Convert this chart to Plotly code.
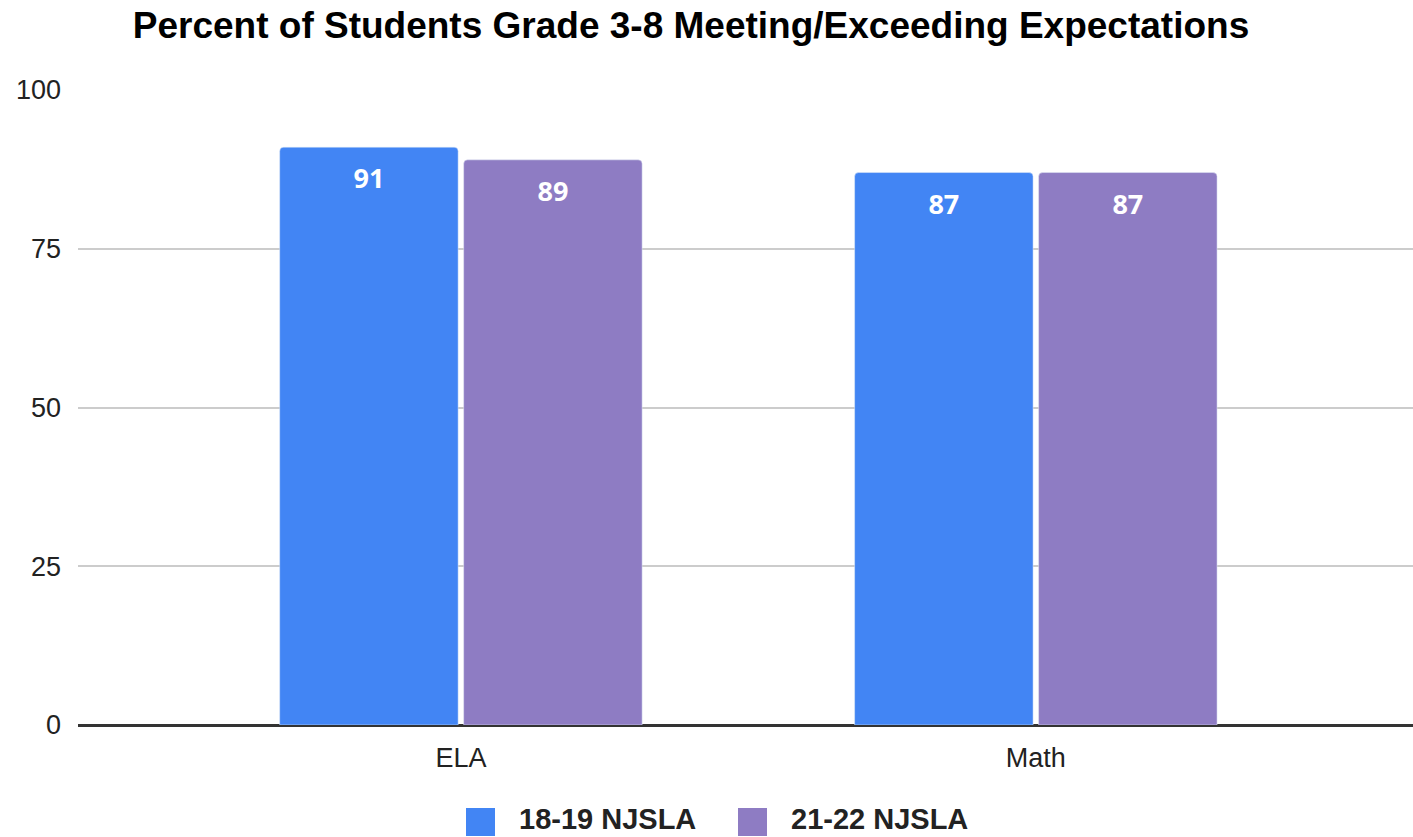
import plotly.graph_objects as go

categories = ["ELA", "Math"]
series_names = ["18-19 NJSLA", "21-22 NJSLA"]
values_1819 = [91, 87]
values_2122 = [89, 87]
colors = ["#4285F4", "#8E7CC3"]

W, H = 1413, 837
L, R, T, B = 78, 0, 90, 837 - 725


def px_to_paper(x, y):
    # page pixel -> paper coords of the plot area
    return (x - L) / (W - L - R), (H - B - y) / (H - T - B)


fig = go.Figure()

for name, vals, col in zip(series_names, [values_1819, values_2122], colors):
    fig.add_trace(
        go.Bar(
            x=categories,
            y=vals,
            name=name,
            marker=dict(color=col, cornerradius=4),
            showlegend=False,
            hoverinfo="x+y",
        )
    )

# value labels, grouped like the bars, pushed down inside the bar top
for vals in [values_1819, values_2122]:
    fig.add_trace(
        go.Scatter(
            x=categories,
            y=vals,
            mode="markers+text",
            text=[str(v) for v in vals],
            textposition="bottom center",
            textfont=dict(family="Open Sans", size=27, color="white", weight="bold"),
            marker=dict(size=32, opacity=0),
            showlegend=False,
            hoverinfo="skip",
        )
    )

# legend drawn by hand so the swatches get the big square size
legend_items = [(466, 518), (738, 790)]
for (sx, tx), name, col in zip(legend_items, series_names, colors):
    x0, y0 = px_to_paper(sx, 836)
    x1, y1 = px_to_paper(sx + 29, 808)
    fig.add_shape(
        type="rect", xref="paper", yref="paper",
        x0=x0, y0=y0, x1=x1, y1=y1,
        fillcolor=col, line=dict(width=0), layer="above",
    )
    ax, ay = px_to_paper(tx, 819)
    fig.add_annotation(
        text=name, xref="paper", yref="paper", x=ax, y=ay,
        xanchor="left", yanchor="middle", showarrow=False, borderpad=0,
        font=dict(family="Liberation Sans", size=29, color="#222222", weight="bold"),
    )

fig.update_layout(
    width=W,
    height=H,
    margin=dict(l=L, r=R, t=T, b=B, pad=0),
    paper_bgcolor="white",
    plot_bgcolor="white",
    barmode="group",
    bargap=0.36,
    bargroupgap=0.03,
    scattermode="group",
    scattergap=0.36,
    title=dict(
        text="Percent of Students Grade 3-8 Meeting/Exceeding Expectations",
        x=691 / W,
        xref="container",
        xanchor="center",
        y=1 - 25 / H,
        yref="container",
        yanchor="middle",
        font=dict(family="Liberation Sans", size=37, color="#000000", weight="bold"),
    ),
    font=dict(family="Liberation Sans", size=27, color="#222222"),
)

fig.update_xaxes(
    range=[-0.666, 1.656],
    showgrid=False,
    ticks="",
    ticklabelstandoff=14,
    tickfont=dict(size=27, color="#222222"),
)
fig.update_yaxes(
    range=[0, 100],
    tickvals=[0, 25, 50, 75, 100],
    showgrid=True,
    gridcolor="#cccccc",
    gridwidth=2,
    zeroline=True,
    zerolinecolor="#333333",
    zerolinewidth=2.5,
    ticks="",
    ticklabelstandoff=16,
    tickfont=dict(size=27, color="#222222"),
)

# drop the browser's default 8px body margin so the figure sits at the page corner
fig.write_html(
    "out.html",
    config={"displayModeBar": False},
    post_script="document.body.style.margin = '0';",
)
